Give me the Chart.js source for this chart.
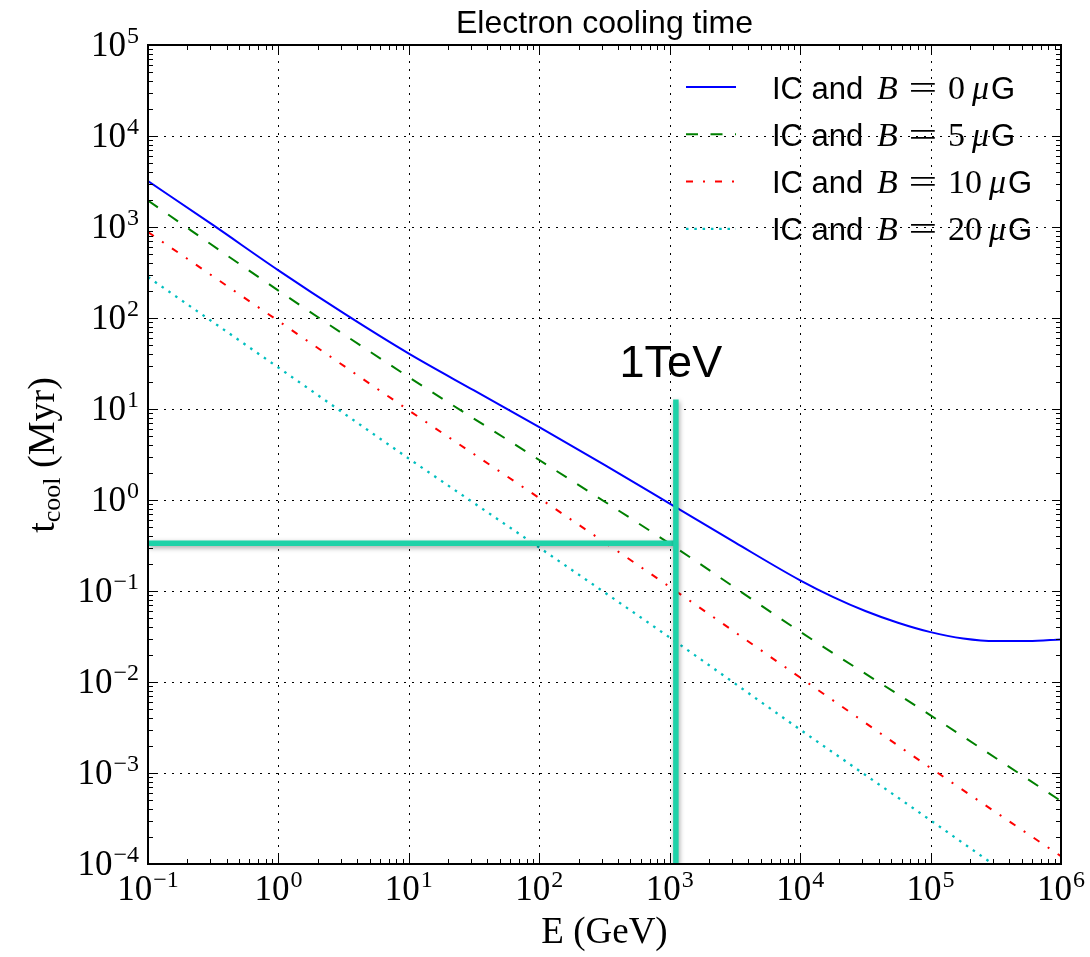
<!DOCTYPE html>
<html lang="en">
<head>
<meta charset="UTF-8">
<title>Electron cooling time</title>
<script src="https://cdn.jsdelivr.net/npm/chart.js@4.4.1/dist/chart.umd.min.js"></script>
<style>
  html, body { margin: 0; padding: 0; background: #fff; }
</style>
</head>
<body>
<canvas id="coolChart" width="1090" height="957"></canvas>
<script>

// decade exponents for the tick labels
var xTickExps = [-1, 0, 1, 2, 3, 4, 5, 6];
var yTickExps = [-4, -3, -2, -1, 0, 1, 2, 3, 4, 5];

// electron energy (GeV) and cooling time (Myr)
var energyB0 = [0.1, 0.316, 1, 3.16, 10, 31.6, 100, 316, 1000, 3160, 1e4, 1.78e4, 3.16e4, 5.62e4, 1e5, 1.78e5, 3.16e5, 5.62e5, 1e6];
var timeB0 = [3200, 1047, 334, 113, 40.6, 16.0, 6.34, 2.43, 0.912, 0.342, 0.131, 0.0863, 0.0603, 0.0448, 0.0353, 0.0301, 0.0282, 0.0282, 0.0294];

var energyDecades = [0.1, 1, 10, 100, 1000, 1e4, 1e5, 1e6];
var timeB5 = [1950, 200, 22.4, 2.75, 0.331, 0.0357, 0.0043, 4.92e-4];
var timeB10 = [881, 92.7, 9.66, 1.05, 0.111, 0.0112, 1.135e-3, 1.216e-4];

var energyB20 = [0.1, 1, 10, 100, 1000, 1e4, 1e5, 3e5];
var timeB20 = [282, 28.5, 2.85, 0.300, 0.0308, 3.0e-3, 3.02e-4, 1.0e-4];

var fieldsMicroG = [0, 5, 10, 20];

// 1 TeV marker lines
var markE = 1115;
var markT = 0.334;
var markTop = 12.7;

var teal = '#1fd2a8';

function pairs(xs, ys) {
  return xs.map(function (x, i) { return { x: x, y: ys[i] }; });
}

var serif = '"Liberation Serif", "Times New Roman", serif';
var sans = '"Liberation Sans", Arial, Helvetica, sans-serif';

function drawPower(ctx, exp, x, y, align) {
  var base = '10';
  var sup = exp < 0 ? '\u2212' + (-exp) : String(exp);
  ctx.font = '35px ' + serif;
  var wb = ctx.measureText(base).width;
  ctx.font = '24px ' + serif;
  var ws = ctx.measureText(sup).width;
  var w = wb + ws + 1;
  var left = align === 'right' ? x - w : x - w / 2;
  ctx.textAlign = 'left';
  ctx.textBaseline = 'alphabetic';
  ctx.font = '35px ' + serif;
  ctx.fillText(base, left, y);
  ctx.font = '24px ' + serif;
  ctx.fillText(sup, left + wb + 1, y - 13);
}

// dotted grid at every decade, under the curves
var gridPlugin = {
  id: 'decadeGrid',
  beforeDatasetsDraw: function (chart) {
    var ctx = chart.ctx, a = chart.chartArea;
    var xs = chart.scales.x, ys = chart.scales.y;
    ctx.save();
    ctx.strokeStyle = '#000';
    ctx.lineWidth = 1;
    ctx.setLineDash([2, 6]);
    xTickExps.forEach(function (e) {
      var px = Math.round(xs.getPixelForValue(Math.pow(10, e))) + 0.5;
      if (px < a.left + 2 || px > a.right - 2) return;
      ctx.beginPath(); ctx.moveTo(px, a.top); ctx.lineTo(px, a.bottom); ctx.stroke();
    });
    yTickExps.forEach(function (e) {
      var py = Math.round(ys.getPixelForValue(Math.pow(10, e))) + 0.5;
      if (py < a.top + 2 || py > a.bottom - 2) return;
      ctx.beginPath(); ctx.moveTo(a.left, py); ctx.lineTo(a.right, py); ctx.stroke();
    });
    ctx.restore();
  }
};

// soft shadow under the marker lines
var shadowPlugin = {
  id: 'markShadow',
  beforeDatasetDraw: function (chart, args) {
    if (!chart.data.datasets[args.index].shadow) return;
    var ctx = chart.ctx;
    ctx.save();
    ctx.shadowColor = 'rgba(0,0,0,0.35)';
    ctx.shadowBlur = 5;
    ctx.shadowOffsetX = 1;
    ctx.shadowOffsetY = 2;
  },
  afterDatasetDraw: function (chart, args) {
    if (!chart.data.datasets[args.index].shadow) return;
    chart.ctx.restore();
  }
};

// frame, inward ticks, labels, legend and texts
var framePlugin = {
  id: 'frameAndText',
  afterDraw: function (chart) {
    var ctx = chart.ctx, a = chart.chartArea;
    var xs = chart.scales.x, ys = chart.scales.y;
    ctx.save();
    ctx.fillStyle = '#000';
    ctx.strokeStyle = '#000';

    // ticks
    ctx.lineWidth = 1;
    ctx.setLineDash([]);
    function xTick(v, len) {
      var px = Math.round(xs.getPixelForValue(v)) + 0.5;
      ctx.beginPath();
      ctx.moveTo(px, a.bottom); ctx.lineTo(px, a.bottom - len);
      ctx.moveTo(px, a.top); ctx.lineTo(px, a.top + len);
      ctx.stroke();
    }
    function yTick(v, len) {
      var py = Math.round(ys.getPixelForValue(v)) + 0.5;
      ctx.beginPath();
      ctx.moveTo(a.left, py); ctx.lineTo(a.left + len, py);
      ctx.moveTo(a.right, py); ctx.lineTo(a.right - len, py);
      ctx.stroke();
    }
    xTickExps.forEach(function (e) {
      xTick(Math.pow(10, e), 9);
      if (e < 6) for (var k = 2; k < 10; k++) xTick(k * Math.pow(10, e), 5);
    });
    yTickExps.forEach(function (e) {
      yTick(Math.pow(10, e), 9);
      if (e < 5) for (var k = 2; k < 10; k++) yTick(k * Math.pow(10, e), 5);
    });

    // frame
    ctx.lineWidth = 2;
    ctx.strokeRect(a.left, a.top, a.right - a.left, a.bottom - a.top);

    // tick labels
    xTickExps.forEach(function (e) {
      drawPower(ctx, e, xs.getPixelForValue(Math.pow(10, e)), a.bottom + 36, 'center');
    });
    yTickExps.forEach(function (e) {
      drawPower(ctx, e, a.left - 9, ys.getPixelForValue(Math.pow(10, e)) + 10.5, 'right');
    });

    // title
    ctx.textAlign = 'center';
    ctx.textBaseline = 'alphabetic';
    ctx.font = '32px ' + sans;
    ctx.fillText('Electron cooling time', (a.left + a.right) / 2, 33);

    // x axis title
    ctx.font = '37px ' + serif;
    ctx.fillText('E (GeV)', (a.left + a.right) / 2, 943);

    // y axis title
    ctx.save();
    ctx.translate(54, 455);
    ctx.rotate(-Math.PI / 2);
    ctx.textAlign = 'left';
    ctx.font = '38px ' + serif;
    var wT = ctx.measureText('t').width;
    ctx.font = '26px ' + serif;
    var wSub = ctx.measureText('cool').width;
    ctx.font = '38px ' + serif;
    var wRest = ctx.measureText(' (Myr)').width;
    var start = -(wT + wSub + wRest) / 2;
    ctx.fillText('t', start, 0);
    ctx.font = '26px ' + serif;
    ctx.fillText('cool', start + wT, 6);
    ctx.font = '38px ' + serif;
    ctx.fillText(' (Myr)', start + wT + wSub, 0);
    ctx.restore();

    // 1 TeV label
    ctx.textAlign = 'center';
    ctx.font = '45px ' + sans;
    ctx.fillText('1TeV', xs.getPixelForValue(markE) - 5, 377);

    // legend
    var curves = chart.data.datasets.filter(function (d) { return d.field !== undefined; });
    curves.forEach(function (ds, i) {
      var yc = 87 + i * 47.3;
      ctx.save();
      ctx.strokeStyle = ds.borderColor;
      ctx.lineWidth = ds.borderWidth;
      ctx.setLineDash(ds.borderDash || []);
      ctx.beginPath();
      ctx.moveTo(686, yc); ctx.lineTo(736, yc);
      ctx.stroke();
      ctx.restore();

      var x0 = 772, yb = yc + 11.5;
      ctx.textAlign = 'left';
      ctx.font = '31px ' + sans;
      ctx.fillText('IC and', x0, yb);
      ctx.font = 'italic 34px ' + serif;
      ctx.fillText('B', x0 + 105, yb);
      // wide math-style equals sign
      ctx.save();
      ctx.translate(x0 + 151, yb);
      ctx.scale(1.5, 1);
      ctx.textAlign = 'center';
      ctx.font = '34px ' + serif;
      ctx.fillText('=', 0, 0);
      ctx.restore();
      ctx.textAlign = 'left';
      ctx.font = '34px ' + serif;
      var num = String(ds.field);
      ctx.fillText(num, x0 + 176, yb);
      var wn = ctx.measureText(num).width;
      ctx.font = 'italic 34px ' + serif;
      ctx.fillText('\u03bc', x0 + 176 + wn + 7, yb);
      var wm = ctx.measureText('\u03bc').width;
      ctx.font = '31px ' + sans;
      ctx.fillText('G', x0 + 176 + wn + 7 + wm + 2, yb);
    });

    ctx.restore();
  }
};

var curveBase = {
  pointRadius: 0,
  borderWidth: 2,
  fill: false,
  cubicInterpolationMode: 'monotone',
  order: 1
};

var ctx = document.getElementById('coolChart');
var coolChart = new Chart(ctx.getContext('2d'), {
  type: 'line',
  data: {
    datasets: [
      Object.assign({}, curveBase, {
        label: 'IC and B = 0 μG', field: fieldsMicroG[0],
        data: pairs(energyB0, timeB0), borderColor: '#0000ff'
      }),
      Object.assign({}, curveBase, {
        label: 'IC and B = 5 μG', field: fieldsMicroG[1],
        data: pairs(energyDecades, timeB5), borderColor: '#008000',
        borderDash: [12, 12.5]
      }),
      Object.assign({}, curveBase, {
        label: 'IC and B = 10 μG', field: fieldsMicroG[2],
        data: pairs(energyDecades, timeB10), borderColor: '#ff0000',
        borderDash: [7, 10, 2, 10]
      }),
      Object.assign({}, curveBase, {
        label: 'IC and B = 20 μG', field: fieldsMicroG[3],
        data: pairs(energyB20, timeB20), borderColor: '#00bfbf',
        borderWidth: 2.3, borderDash: [2.5, 5.8]
      }),
      {
        label: 'marker vertical', shadow: true, order: 0,
        data: [{ x: markE, y: 1e-4 }, { x: markE, y: markTop }],
        borderColor: teal, borderWidth: 5.5, pointRadius: 0, borderCapStyle: 'butt'
      },
      {
        label: 'marker horizontal', shadow: true, order: 0,
        data: [{ x: 0.1, y: markT }, { x: markE, y: markT }],
        borderColor: teal, borderWidth: 5.5, pointRadius: 0, borderCapStyle: 'butt'
      }
    ]
  },
  options: {
    responsive: false,
    animation: false,
    layout: { padding: { left: 148, top: 45, right: 29, bottom: 93 } },
    plugins: {
      legend: { display: false },
      tooltip: { enabled: false },
      title: { display: false }
    },
    scales: {
      x: {
        type: 'logarithmic', min: 0.1, max: 1e6,
        ticks: { display: false },
        grid: { display: false, drawTicks: false },
        border: { display: false }
      },
      y: {
        type: 'logarithmic', min: 1e-4, max: 1e5,
        ticks: { display: false },
        grid: { display: false, drawTicks: false },
        border: { display: false }
      }
    }
  },
  plugins: [gridPlugin, shadowPlugin, framePlugin]
});

</script>
</body>
</html>
